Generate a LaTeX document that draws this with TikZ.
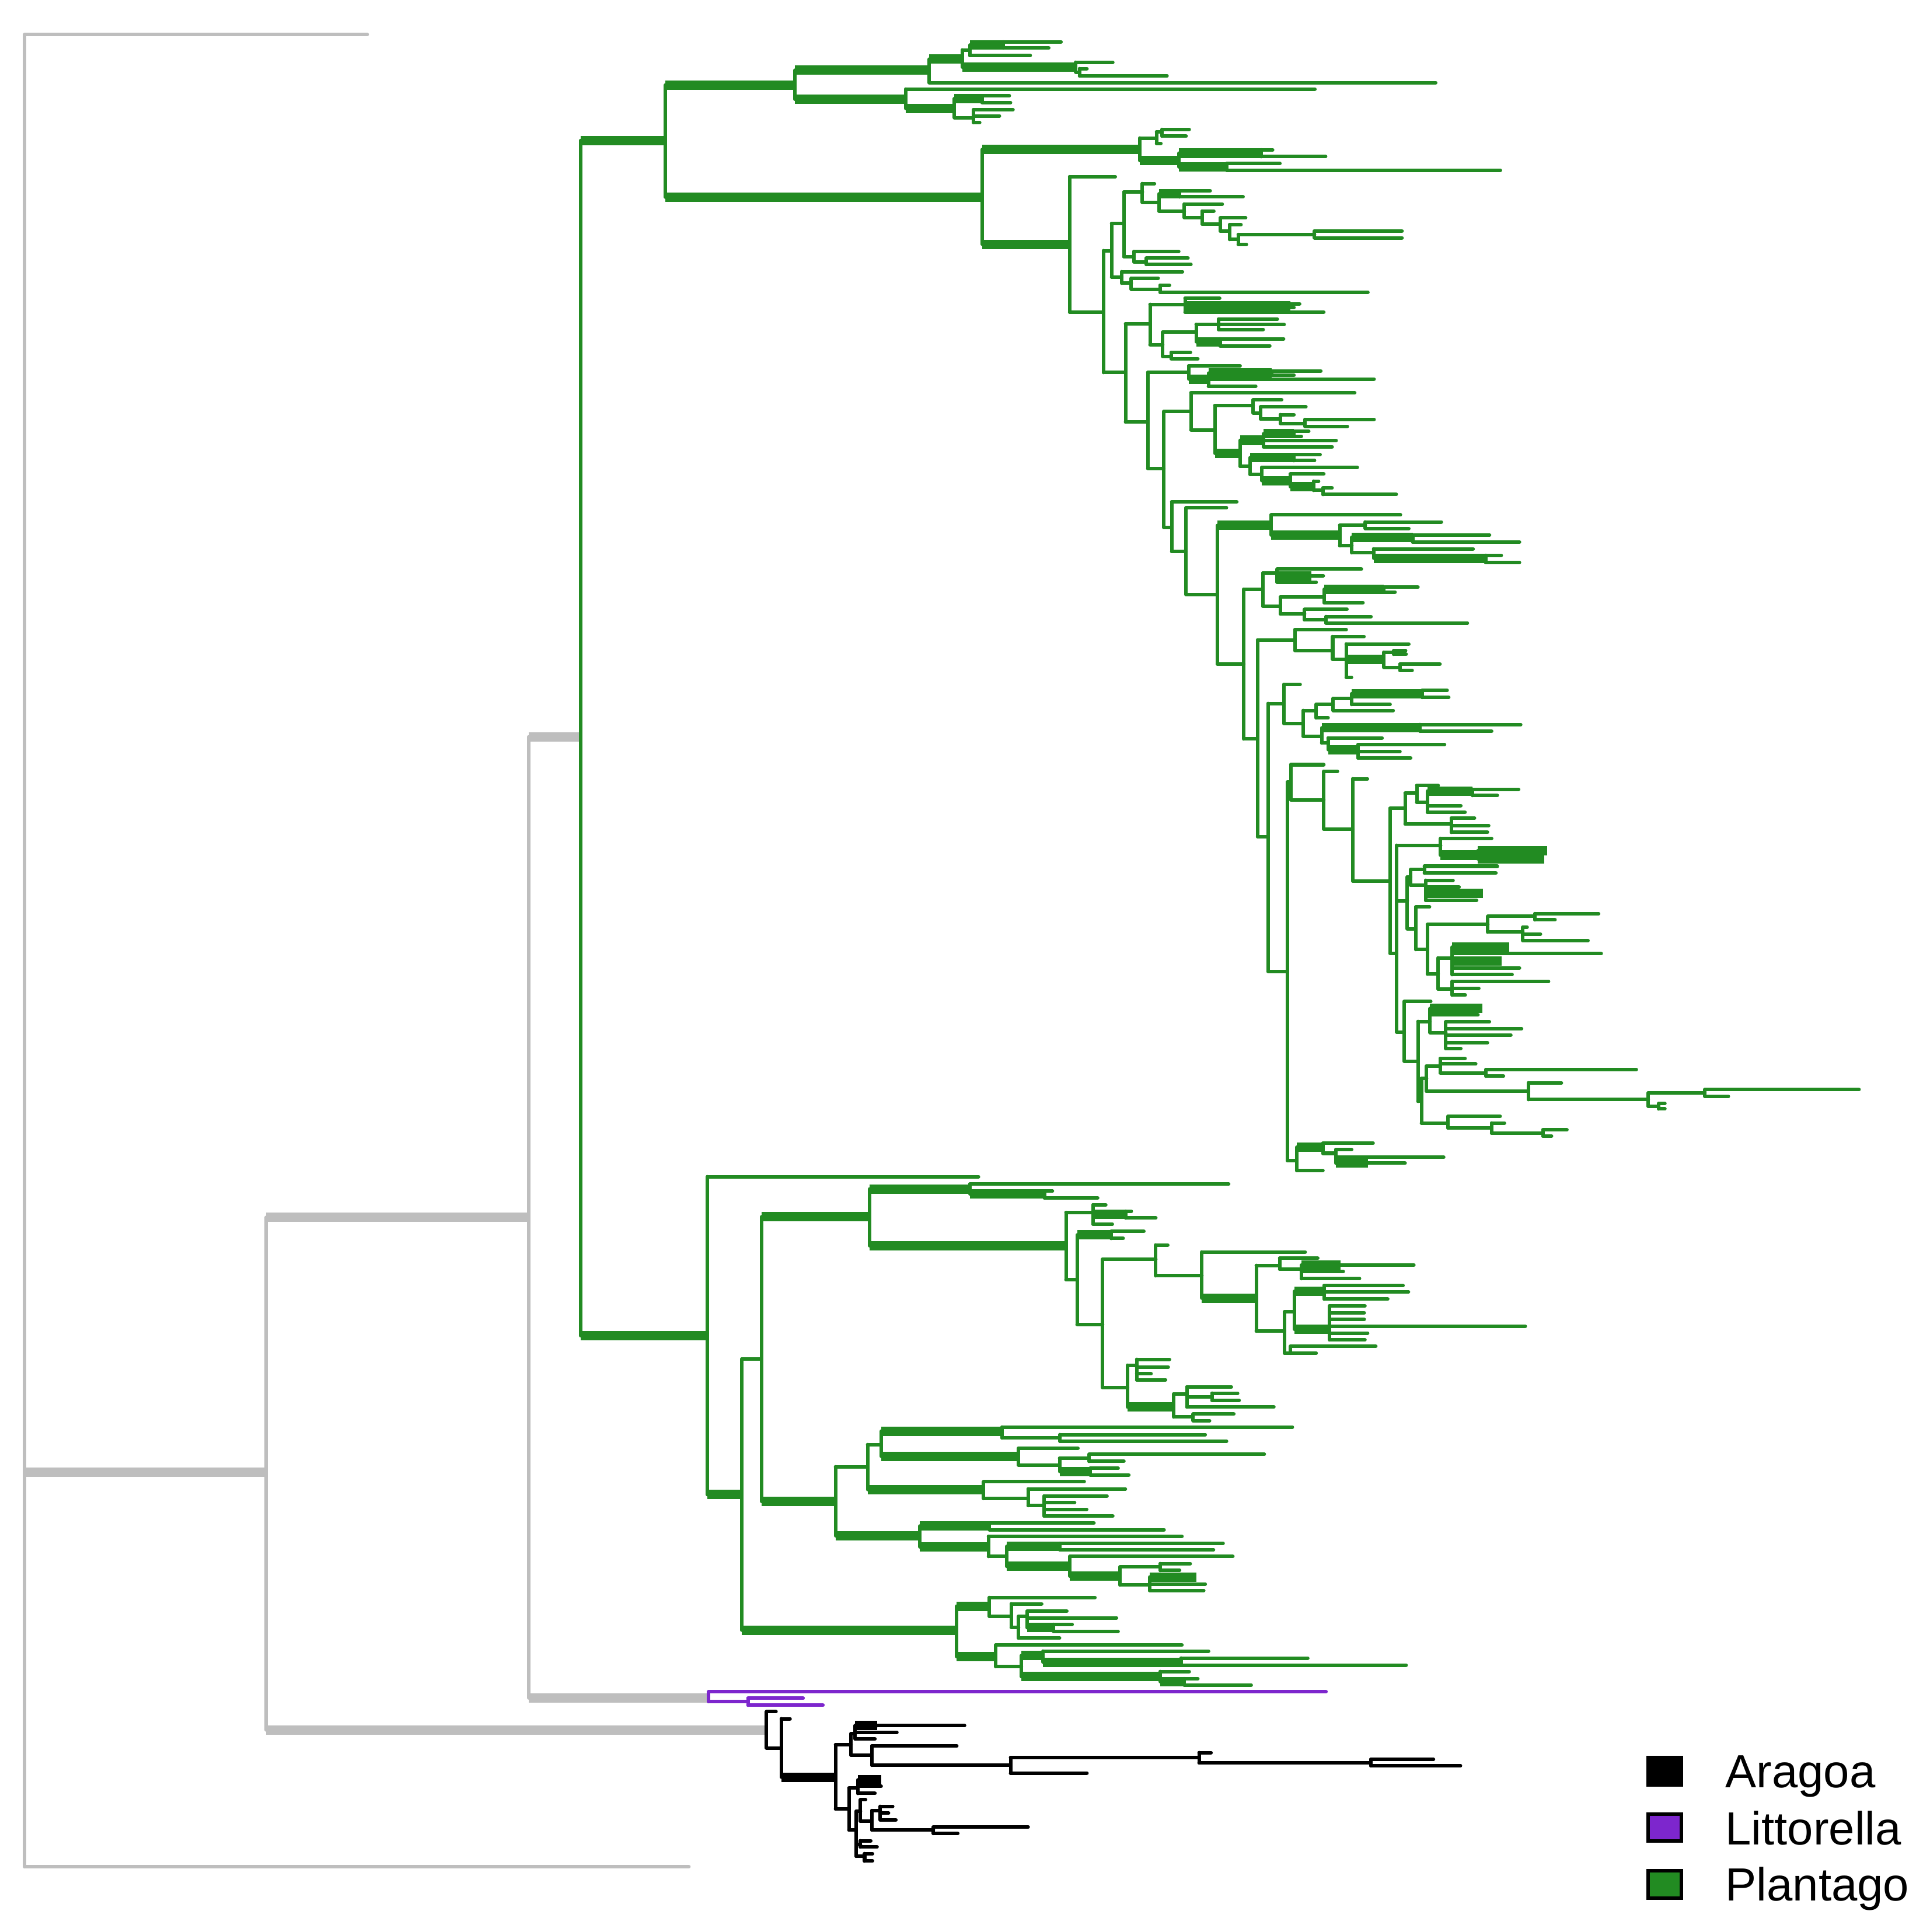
\documentclass[tikz,border=0pt]{standalone}
\usepackage{fontspec}
\newfontfamily\legendfont{Liberation Sans}
\definecolor{stemgray}{HTML}{BEBEBE}
\definecolor{plantago}{HTML}{228B22}
\definecolor{littorella}{HTML}{7D26CD}
\newcommand{\brn}[3]{%
  \foreach \cy/\cx/\lw in {#3}{%
    \draw[twig] (#1,#2) -- (#1,\cy);
    \draw[\lw] (#1,\cy) -- (\cx,\cy);
  }}

\begin{document}
\begin{tikzpicture}[x=0.01cm, y=-0.01cm,
    twig/.style={line width=0.81pt, line cap=round},
    limb/.style={line width=2.16pt, line cap=butt},
    swatch/.style={draw=black, line width=0.8pt, line cap=butt},
    legendtext/.style={anchor=base west, inner sep=0pt,
      font=\legendfont\fontsize{10.73}{12}\selectfont}]
    \useasboundingbox (0,0) rectangle (1560,1568);

    \begin{scope}[color=stemgray]
        \brn{20}{1195}{28/298/twig, 1195/216/limb, 1515/559/twig}
        \brn{216}{1195}{988/429/limb, 1404/622/limb}
        \brn{429}{988}{598/471/limb, 1378/575/limb}
    \end{scope}

    \begin{scope}[color=plantago]
        \brn{471}{598}{114/540/limb, 1084/574/limb}
        \brn{540}{114}{69/645/limb, 160/797/limb}
        \brn{645}{69}{57/754/limb, 80.5/735/limb}
        \brn{754}{57}{48/781/limb, 67/1165/twig}
        \brn{781}{48}{40.5/787/twig, 54.5/873/limb}
        \brn{787}{40.5}{36.5/814/limb, 45/836/twig}
        \brn{814}{36.5}{34/861/twig, 39/851/twig}
        \brn{873}{54.5}{50.5/903/twig, 58.5/876/twig}
        \brn{876}{58.5}{55.7/882/twig, 61.6/947/twig}
        \brn{735}{80.5}{72.3/1067/twig, 88/774.5/limb}
        \brn{774.5}{88}{80/797/limb, 95.5/790/twig}
        \brn{797}{80}{77.7/819/twig, 83.2/820/twig}
        \brn{790}{95.5}{89/822/twig, 94/811/twig, 99.5/795/twig}
        \brn{797}{160}{121.3/925/limb, 198.2/868/limb}
        \brn{925}{121.3}{112/938.5/twig, 130.3/956.6/limb}
        \brn{938.5}{112}{107/943/twig, 116.4/942/twig}
        \brn{943}{107}{105/965/twig, 110.5/962.5/twig}
        \brn{956.6}{130.3}{124.3/1023.6/limb, 135.4/995.5/limb}
        \brn{1023.6}{124.3}{121.6/1032.7/twig, 127.1/1075.7/twig}
        \brn{995.5}{135.4}{132.7/1038.6/twig, 138.2/1217.5/twig}
        \brn{868}{198.2}{143.4/905/twig, 253.3/895.5/twig}
        \brn{895.5}{253.3}{203.4/902/twig, 302.3/913.3/twig}
        \brn{902}{203.4}{181.4/912/twig, 224.7/910.3/twig}
        \brn{912}{181.4}{155.8/927/twig, 208.3/920.2/twig}
        \brn{927}{155.8}{149/936.8/twig, 164.3/940.5/twig}
        \brn{940.5}{164.3}{157.3/957/limb, 171.3/961/twig}
        \brn{957}{157.3}{154.8/982/twig, 159.8/1008.7/twig}
        \brn{961}{171.3}{165.6/991.8/twig, 176.5/975.5/twig}
        \brn{975.5}{176.5}{171.3/985/twig, 181.8/990.3/twig}
        \brn{990.3}{181.8}{176.8/1010.8/twig, 187.5/997.8/twig}
        \brn{997.8}{187.5}{182.3/1007/twig, 194.3/1004.8/twig}
        \brn{1004.8}{194.3}{190.3/1066.7/twig, 198.3/1011.4/twig}
        \brn{1066.7}{190.3}{187.5/1137.7/twig, 193/1137.7/twig}
        \brn{920.2}{208.3}{204/956.5/twig, 212.5/930.2/twig}
        \brn{930.2}{212.5}{209.5/964/twig, 214.6/966.4/twig}
        \brn{910.3}{224.7}{220.5/959.5/twig, 229.8/918/twig}
        \brn{918}{229.8}{225.8/939.8/twig, 234.7/941.4/twig}
        \brn{941.4}{234.7}{231.5/949/twig, 237.2/1110/twig}
        \brn{913.3}{302.3}{262.8/933.2/twig, 342.5/931.4/twig}
        \brn{933.2}{262.8}{247/961.6/twig, 279.7/943.5/twig}
        \brn{961.6}{247}{242.1/989.7/twig, 248/1047/limb, 253.3/1074.2/twig}
        \brn{1047}{248}{246.5/1054.6/twig, 249.5/1050/twig}
        \brn{943.5}{279.7}{269.6/970.6/twig, 289.2/950.4/twig}
        \brn{970.6}{269.6}{263.2/988.8/twig, 277.4/990/limb}
        \brn{988.8}{263.2}{259/1036.5/twig, 263.5/1042/twig, 267.4/1025/twig}
        \brn{990}{277.4}{275/1041.6/twig, 280.6/1030.4/twig}
        \brn{950.4}{289.2}{286/966/twig, 291.1/972/twig}
        \brn{931.4}{342.5}{302.3/964.6/twig, 380.1/944.4/twig}
        \brn{964.6}{302.3}{297/1006.3/twig, 307.6/980.6/limb}
        \brn{980.6}{307.6}{302.8/1032/limb, 307.6/1115/twig, 313.5/1019/twig}
        \brn{1032}{302.8}{301/1071.8/twig, 304.5/1050/twig}
        \brn{944.4}{380.1}{334/966.4/twig, 428/950.8/twig}
        \brn{966.4}{334}{318.8/1099.3/twig, 348.8/985.8/twig}
        \brn{985.8}{348.8}{329.2/1016.9/twig, 367.9/1006.3/limb}
        \brn{1016.9}{329.2}{324.5/1040/twig, 335.1/1022.9/twig}
        \brn{1022.9}{335.1}{330.2/1059.7/twig, 340/1039/twig}
        \brn{1039}{340}{336.5/1050/twig, 343.6/1059/twig}
        \brn{1059}{343.6}{340.4/1115/twig, 346/1093.3/twig}
        \brn{1006.3}{367.9}{357.3/1025.3/limb, 378.4/1014.4/twig}
        \brn{1025.3}{357.3}{352/1050/limb, 357.5/1084.2/twig, 362.6/1081/twig}
        \brn{1050}{352}{350/1062/twig, 354/1056/twig}
        \brn{1014.4}{378.4}{371.4/1050/limb, 385/1023.8/twig}
        \brn{1050}{371.4}{369/1071.2/twig, 373.8/1066.7/twig}
        \brn{1023.8}{385}{379.5/1101.4/twig, 390/1047/limb}
        \brn{1047}{390}{384.7/1074.2/twig, 395/1066/limb}
        \brn{1066}{395}{390.5/1070/twig, 398/1073.5/twig}
        \brn{1073.5}{398}{396/1080.9/twig, 401.3/1133/twig}
        \brn{950.8}{428}{407.3/1003.6/twig, 447.5/962.4/twig}
        \brn{962.4}{447.5}{412.2/995.2/twig, 482.4/987.8/twig}
        \brn{987.8}{482.4}{426.4/1031.5/limb, 538.8/1009.3/twig}
        \brn{1031.5}{426.4}{417.9/1136.4/twig, 434.2/1087.1/limb}
        \brn{1087.1}{434.2}{426.4/1107.9/twig, 442.9/1097/twig}
        \brn{1107.9}{426.4}{423.6/1169.6/twig, 428.9/1143.2/twig}
        \brn{1097}{442.9}{436/1146.3/limb, 448.6/1114.6/twig}
        \brn{1146.3}{436}{434.2/1208.7/twig, 439.9/1233/twig}
        \brn{1114.6}{448.6}{445.4/1195.4/twig, 453/1205.5/limb}
        \brn{1205.5}{453}{450.7/1218.2/twig, 456.4/1233/twig}
        \brn{1009.3}{538.8}{478.2/1024.8/twig, 599.7/1020.5/twig}
        \brn{1024.8}{478.2}{465/1036.4/twig, 491.9/1039/twig}
        \brn{1036.4}{465}{461.9/1104.7/twig, 467.2/1064/limb, 472.5/1068/twig}
        \brn{1064}{467.2}{467.2/1073.8/twig}
        \brn{1039}{491.9}{484.5/1074.5/twig, 498.2/1058.6/twig}
        \brn{1074.5}{484.5}{478.2/1123/limb, 489.1/1106/twig}
        \brn{1123}{478.2}{476.5/1150.6/twig, 480.5/1132/twig}
        \brn{1058.6}{498.2}{494.6/1093/twig, 503/1076/twig}
        \brn{1076}{503}{500.4/1112.5/twig, 505.6/1190.7/twig}
        \brn{1020.5}{599.7}{519.4/1050.8/twig, 679/1029/twig}
        \brn{1050.8}{519.4}{511/1092.4/twig, 527.8/1081.4/twig}
        \brn{1081.4}{527.8}{516.6/1106.8/twig, 535/1092.4/twig}
        \brn{1092.4}{535}{522.6/1143.2/twig, 535.2/1123/limb, 549.6/1096.7/twig}
        \brn{1123}{535.2}{529.3/1131/twig, 541.6/1136/twig}
        \brn{1131}{529.3}{528/1140.6/twig, 531/1141/twig}
        \brn{1136}{541.6}{539/1168.5/twig, 544/1145.9/twig}
        \brn{1029}{679}{570.9/1041.9/twig, 788.3/1044.7/twig}
        \brn{1041.9}{570.9}{555.4/1055/twig, 587.2/1057.5/twig}
        \brn{1057.5}{587.2}{576.6/1068/twig, 597.5/1072.5/twig}
        \brn{1068}{576.6}{571.7/1081.8/twig, 582.6/1077.7/twig}
        \brn{1081.8}{571.7}{566.8/1096.8/twig, 576.6/1130.5/twig}
        \brn{1096.8}{566.8}{563/1154/limb, 571.7/1128/twig}
        \brn{1154}{563}{560.3/1174.3/twig, 566/1175.6/twig}
        \brn{1072.5}{597.5}{590.7/1152.4/limb, 603/1077.7/twig}
        \brn{1152.4}{590.7}{588/1234/twig, 593.4/1210.4/twig}
        \brn{1077.7}{603}{598.9/1121.5/twig, 608.4/1102/limb}
        \brn{1102}{608.4}{604.3/1172.2/twig, 610/1136/twig, 615.2/1144.7/twig}
        \brn{1044.7}{788.3}{634.7/1047.5/twig, 941.9/1052.3/twig}
        \brn{1047.5}{634.7}{620.6/1074.2/twig, 649.1/1074.2/twig}
        \brn{1074.2}{649.1}{626/1085.3/twig, 672.8/1097.8/twig}
        \brn{1097.8}{672.8}{632/1109.6/twig, 715/1128/twig}
        \brn{1128}{715}{656/1140.2/twig, 773.6/1133.3/twig}
        \brn{1140.2}{656}{643.7/1149.6/twig, 668.7/1177.7/twig}
        \brn{1149.6}{643.7}{637.5/1167/twig, 651/1158.3/twig}
        \brn{1158.3}{651}{642/1195/limb, 653.8/1185.4/twig, 659.2/1188.8/twig}
        \brn{1195}{642}{640.5/1232.3/twig, 645.6/1215/twig}
        \brn{1177.7}{668.7}{664/1196.5/twig, 670/1208/twig, 675.5/1207/twig}
        \brn{1133.3}{773.6}{686/1169/twig, 731/1142/twig, 837.5/1139.5/twig}
        \brn{1169}{686}{680.4/1210.4/twig, 694/1199.3/limb}
        \brn{1199.3}{694}{690.5/1255.5/limb, 697/1253/limb}
        \brn{1142}{731}{711.7/1144.7/twig, 753.8/1148.9/twig}
        \brn{1144.7}{711.7}{705.7/1155.8/twig, 718.4/1156.9/twig}
        \brn{1155.8}{705.7}{703/1215/twig, 708.5/1213.9/twig}
        \brn{1156.9}{718.4}{714.4/1179.1/twig, 720/1184/twig, 725/1203.4/limb, 730.7/1198.2/twig}
        \brn{1148.9}{753.8}{736.1/1160/twig, 770.6/1158.3/twig}
        \brn{1158.3}{770.6}{750.3/1207.3/twig, 790.5/1167/twig}
        \brn{1207.3}{750.3}{743.7/1245.5/twig, 756.5/1235.7/twig}
        \brn{1245.5}{743.7}{741.5/1297.2/twig, 746.5/1261.8/twig}
        \brn{1235.7}{756.5}{752.5/1239.2/twig, 758/1250/twig, 763.3/1288.6/twig}
        \brn{1167}{790.5}{777.4/1178.4/twig, 802.7/1178.4/twig}
        \brn{1178.4}{777.4}{768.7/1224.6/limb, 774/1299.3/twig, 780/1218.4/limb, 785.6/1233/twig, 791/1227/twig}
        \brn{1178.4}{802.7}{796.4/1256.6/twig, 802/1200/twig, 807.6/1189/twig}
        \brn{1139.5}{837.5}{812.8/1161/twig, 861.2/1150.6/twig}
        \brn{1150.6}{861.2}{829/1160.4/twig, 893.8/1153.4/twig}
        \brn{1160.4}{829}{818.5/1202.7/limb, 823.6/1199.3/twig, 838/1173.2/twig}
        \brn{1173.2}{838}{829.3/1208.6/twig, 834.8/1234.7/twig, 840/1226/twig, 846.2/1207/twig, 851/1185.4/twig}
        \brn{1153.4}{893.8}{875.3/1157.6/twig, 911.4/1175/twig}
        \brn{1157.6}{875.3}{865.2/1168.7/twig, 885.6/1240.3/twig}
        \brn{1168.7}{865.2}{859/1188.8/twig, 863.5/1197.5/twig, 870.7/1205.8/twig}
        \brn{1205.8}{870.7}{868/1327.8/twig, 873.4/1220/twig}
        \brn{1240.3}{885.6}{878.8/1267/twig, 892.4/1337.5/twig}
        \brn{1337.5}{892.4}{887/1383.4/twig, 897.8/1346/twig}
        \brn{1383.4}{887}{884.3/1508.5/twig, 889.7/1402.5/twig}
        \brn{1346}{897.8}{895.5/1351/twig, 900/1351/twig}
        \brn{1175}{911.4}{906/1217.3/twig, 915.5/1210.4/twig}
        \brn{1210.4}{915.5}{911.4/1220.8/twig, 919.6/1252/twig}
        \brn{1252}{919.6}{917/1271.5/twig, 922/1259/twig}
        \brn{1052.3}{941.9}{931/1073.5/limb, 950/1073.5/twig}
        \brn{1073.5}{931}{927.8/1114.2/twig, 936/1084/twig}
        \brn{1084}{936}{933/1096.8/twig, 939.2/1171.5/twig, 944/1110/limb}
        \brn{1110}{944}{944/1140.2/twig}

        \brn{574}{1084}{955/794/twig, 1213/602/limb}
        \brn{602}{1213}{1103/618/twig, 1323/776/limb}
        \brn{618}{1103}{987.5/705.5/limb, 1218.5/678/limb}
        \brn{705.5}{987.5}{965/787/limb, 1011/865/limb}
        \brn{787}{965}{961/997/twig, 969/847.5/limb}
        \brn{847.5}{969}{966.7/854/twig, 972.2/890.7/twig}
        \brn{865}{1011}{984/887/twig, 1038.5/874/twig}
        \brn{887}{984}{977.8/897.3/twig, 985.7/913.6/limb, 993.5/902.6/twig}
        \brn{913.6}{985.7}{983/918/twig, 988.5/937.9/twig}
        \brn{874}{1038.5}{1002.2/901.7/limb, 1074.8/894.7/twig}
        \brn{901.7}{1002.2}{999.4/928.2/twig, 1005.1/911.4/twig}
        \brn{894.7}{1074.8}{1022/937.9/twig, 1126.1/915/twig}
        \brn{937.9}{1022}{1010.4/947.6/twig, 1035.4/975.3/twig}
        \brn{975.3}{1035.4}{1016.1/1059.1/twig, 1053.5/1019.4/limb}
        \brn{1019.4}{1053.5}{1027/1038.4/twig, 1080.3/1042.4/twig}
        \brn{1038.4}{1027}{1021.2/1069.3/twig, 1030/1056/twig}
        \brn{1056}{1030}{1026.7/1088/limb, 1032/1090/twig, 1037.7/1103.2/twig}
        \brn{1088}{1026.7}{1026.7/1147.3/twig}
        \brn{1042.4}{1080.3}{1064.6/1050.3/twig, 1098.2/1047.2/twig}
        \brn{1050.3}{1064.6}{1048/1074.5/limb, 1078.8/1079/limb}
        \brn{1074.5}{1048}{1043.3/1138.5/twig, 1048.5/1142.9/twig, 1054.3/1126.1/twig}
        \brn{1079}{1078.8}{1059.8/1107.6/twig, 1065.4/1107/twig, 1070.9/1107/twig, 1076.4/1237.7/twig, 1081.9/1109.8/twig, 1087.4/1107.6/twig}
        \brn{1047.2}{1098.2}{1092.6/1116.4/twig, 1098.2/1068/twig}
        \brn{915}{1126.1}{1108/922.4/twig, 1141.9/952.5/limb}
        \brn{922.4}{1108}{1103.2/949/twig, 1109.5/948/twig, 1115/934/twig, 1119.8/945.8/twig}
        \brn{952.5}{1141.9}{1131.3/963.1/twig, 1150/968.2/twig}
        \brn{963.1}{1131.3}{1125.6/999.2/twig, 1133.7/983.5/twig, 1141.9/1033.7/twig}
        \brn{983.5}{1133.7}{1130.7/1004.3/twig, 1136.5/1005.5/twig}
        \brn{968.2}{1150}{1147.6/1001.2/twig, 1153/981.5/twig}
        \brn{678}{1218.5}{1190.4/704/twig, 1246.4/746.4/limb}
        \brn{704}{1190.4}{1172.4/715/twig, 1208.9/798.2/limb}
        \brn{715}{1172.4}{1161.5/813.1/limb, 1181.9/826.5/limb}
        \brn{813.1}{1161.5}{1158.2/1048.7/twig, 1167/860.2/twig}
        \brn{860.2}{1167}{1164.3/978/twig, 1169.7/995.3/twig}
        \brn{826.5}{1181.9}{1175.4/874.7/twig, 1189/859.8/twig}
        \brn{859.8}{1189}{1183.5/883.8/twig, 1194.2/884.6/limb}
        \brn{883.8}{1183.5}{1180.3/1025.9/twig, 1186/912/twig}
        \brn{884.6}{1194.2}{1191.7/907.3/twig, 1197/916/twig}
        \brn{798.2}{1208.9}{1202.6/879.8/twig, 1216.2/834.3/twig}
        \brn{834.3}{1216.2}{1208.4/913.2/twig, 1221.9/847.3/twig}
        \brn{847.3}{1221.9}{1214.1/898.3/twig, 1219.5/872/twig, 1224.9/881.8/twig, 1230.4/903/twig}
        \brn{746.4}{1246.4}{1238.5/802.9/limb, 1255.4/802.1/limb}
        \brn{802.9}{1238.5}{1236/887.7/twig, 1241.5/944.6/twig}
        \brn{802.1}{1255.4}{1246.9/959.1/twig, 1263.2/817/twig}
        \brn{817}{1263.2}{1255/860/limb, 1271.2/868.1/limb}
        \brn{860}{1255}{1252.5/992.5/twig, 1257.8/984.7/twig}
        \brn{868.1}{1271.2}{1263.2/1000.4/twig, 1279.1/908.9/limb}
        \brn{908.9}{1279.1}{1271.7/941.5/twig, 1286.4/932.9/twig}
        \brn{941.5}{1271.7}{1269/965.8/twig, 1274.5/957.2/twig}
        \brn{932.9}{1286.4}{1279.9/971/limb, 1285.6/978/twig, 1290.8/976.8/twig}
        \brn{776}{1323}{1303.6/802.9/limb, 1344.4/808/limb}
        \brn{802.9}{1303.6}{1296.5/888.5/twig, 1311.8/820.6/twig}
        \brn{820.6}{1311.8}{1301.6/845.3/twig, 1320.7/826.5/twig}
        \brn{826.5}{1320.7}{1311.8/833.5/twig, 1329.4/859.8/twig}
        \brn{833.5}{1311.8}{1307.6/865.7/twig, 1313/906/twig, 1321/855/limb}
        \brn{855}{1321}{1318.3/870/twig, 1324/907.3/twig}
        \brn{808}{1344.4}{1335.1/959.1/twig, 1352.6/828.8/twig}
        \brn{828.8}{1352.6}{1343.6/846.5/limb, 1360.7/941.5/limb}
        \brn{846.5}{1343.6}{1340/980.7/twig, 1349/958.4/limb}
        \brn{958.4}{1349}{1345.7/1061.2/twig, 1351.4/1141/twig}
        \brn{941.5}{1360.7}{1356.6/965/twig, 1364.8/961.1/limb}
        \brn{961.1}{1364.8}{1362.4/972/twig, 1367.6/1015.3/twig}
    \end{scope}

    \begin{scope}[color=littorella]
        \brn{575}{1378}{1373/1076/twig, 1381/607/twig}
        \brn{607}{1381}{1378.3/651.7/twig, 1383.9/667.8/twig}
    \end{scope}

    \begin{scope}[color=black]
        \brn{622}{1404}{1389.2/629.7/twig, 1418.6/634/twig}
        \brn{634}{1418.6}{1394.9/641.1/twig, 1442.3/678/limb}
        \brn{678}{1442.3}{1416/690.6/twig, 1468.1/688.9/twig}
        \brn{690.6}{1416}{1407/694/twig, 1424.4/707.5/twig}
        \brn{694}{1407}{1400.4/712/limb, 1405.8/727.8/twig, 1411.3/710/twig}
        \brn{712}{1400.4}{1400.4/782.7/twig}
        \brn{707.5}{1424.4}{1417/776.4/twig, 1432.6/820/twig}
        \brn{820}{1432.6}{1426.5/973/twig, 1439/882/twig}
        \brn{973}{1426.5}{1422.4/982.7/twig, 1430.7/1112.4/twig}
        \brn{1112.4}{1430.7}{1427.9/1163.2/twig, 1433.1/1185.1/twig}
        \brn{688.9}{1468.1}{1451.2/696.1/twig, 1485.2/694.8/twig}
        \brn{696.1}{1451.2}{1444.5/715/limb, 1449.7/715/twig, 1455.5/710/twig}
        \brn{694.8}{1485.2}{1470/698.2/twig, 1497/698.2/twig, 1506.5/701.6/twig}
        \brn{698.2}{1470}{1460.7/702.4/twig, 1478/707.5/twig}
        \brn{707.5}{1478}{1469.4/714.3/twig, 1485.2/757.4/twig}
        \brn{714.3}{1469.4}{1466/724.4/twig, 1471.5/721/twig, 1477/727/twig}
        \brn{757.4}{1485.2}{1482.8/834.3/twig, 1488/777.2/twig}
        \brn{698.2}{1497}{1493.9/706.6/twig, 1499/711.7/twig}
        \brn{701.6}{1506.5}{1504.4/708/twig, 1510.4/708/twig}
    \end{scope}

    \filldraw[swatch, fill=black] (1337.4,1426.3) rectangle (1364.2,1448.6);
    \filldraw[swatch, fill=littorella] (1337.4,1472.4) rectangle (1364.2,1494.3);
    \filldraw[swatch, fill=plantago] (1337.4,1518.4) rectangle (1364.2,1540.3);
    \node[legendtext] (aragoa) at (1399.5,1451) {Aragoa};
    \node[legendtext] (littorella) at (1399.5,1497) {Littorella};
    \node[legendtext] (plantago) at (1399.5,1542.8) {Plantago};
\end{tikzpicture}
\end{document}
